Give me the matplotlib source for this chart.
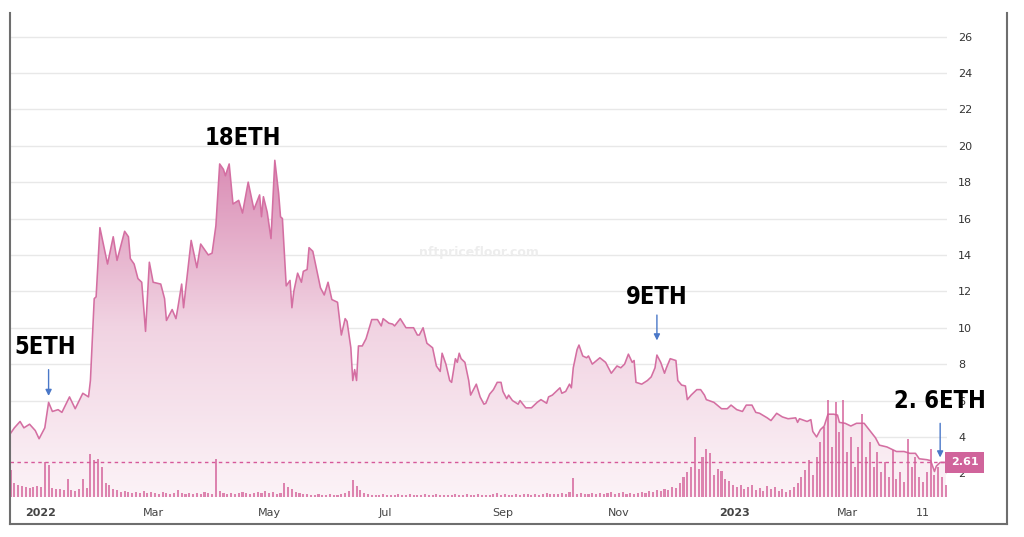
import matplotlib
matplotlib.use("Agg")
import matplotlib.pyplot as plt
import matplotlib.dates as mdates
from matplotlib.colors import LinearSegmentedColormap
from matplotlib.lines import Line2D
import numpy as np
import pandas as pd

# floor price (ETH)
price_dates = [
    "2021-12-16", "2021-12-18", "2021-12-21", "2021-12-23", "2021-12-26", "2021-12-29", "2021-12-31",
    "2022-01-03", "2022-01-05", "2022-01-07", "2022-01-10", "2022-01-12", "2022-01-16", "2022-01-19",
    "2022-01-23", "2022-01-26", "2022-01-27", "2022-01-29", "2022-01-30", "2022-02-01", "2022-02-05",
    "2022-02-08", "2022-02-10", "2022-02-14", "2022-02-16", "2022-02-17", "2022-02-19", "2022-02-21",
    "2022-02-23", "2022-02-25", "2022-02-27", "2022-03-01", "2022-03-05", "2022-03-07", "2022-03-08",
    "2022-03-11", "2022-03-13", "2022-03-14", "2022-03-16", "2022-03-17", "2022-03-21", "2022-03-24",
    "2022-03-26", "2022-03-28", "2022-03-30", "2022-04-01", "2022-04-03", "2022-04-05", "2022-04-07",
    "2022-04-08", "2022-04-10", "2022-04-12", "2022-04-15", "2022-04-17", "2022-04-20", "2022-04-23",
    "2022-04-26", "2022-04-27", "2022-04-28", "2022-04-30", "2022-05-02", "2022-05-04", "2022-05-06",
    "2022-05-07", "2022-05-08", "2022-05-10", "2022-05-12", "2022-05-13", "2022-05-14", "2022-05-16",
    "2022-05-18", "2022-05-19", "2022-05-21", "2022-05-22", "2022-05-24", "2022-05-28", "2022-05-30",
    "2022-06-01", "2022-06-03", "2022-06-06", "2022-06-08", "2022-06-10", "2022-06-11", "2022-06-13",
    "2022-06-14", "2022-06-15", "2022-06-16", "2022-06-17", "2022-06-19", "2022-06-21", "2022-06-24",
    "2022-06-27", "2022-06-29", "2022-06-30", "2022-07-03", "2022-07-05", "2022-07-06", "2022-07-09",
    "2022-07-12", "2022-07-16", "2022-07-18", "2022-07-19", "2022-07-21", "2022-07-23", "2022-07-26",
    "2022-07-28", "2022-07-30", "2022-07-31", "2022-08-02", "2022-08-04", "2022-08-05", "2022-08-07",
    "2022-08-08", "2022-08-09", "2022-08-10", "2022-08-12", "2022-08-14", "2022-08-15", "2022-08-17",
    "2022-08-18", "2022-08-20", "2022-08-22", "2022-08-23", "2022-08-25", "2022-08-27", "2022-08-29",
    "2022-08-31", "2022-09-01", "2022-09-03", "2022-09-04", "2022-09-06", "2022-09-09", "2022-09-10",
    "2022-09-13", "2022-09-16", "2022-09-19", "2022-09-21", "2022-09-24", "2022-09-25", "2022-09-27",
    "2022-10-01", "2022-10-02", "2022-10-04", "2022-10-06", "2022-10-07", "2022-10-08", "2022-10-10",
    "2022-10-11", "2022-10-13", "2022-10-15", "2022-10-16", "2022-10-18", "2022-10-22", "2022-10-25",
    "2022-10-28", "2022-10-31", "2022-11-02", "2022-11-04", "2022-11-06", "2022-11-08", "2022-11-09",
    "2022-11-10", "2022-11-13", "2022-11-16", "2022-11-18", "2022-11-20", "2022-11-21", "2022-11-23",
    "2022-11-25", "2022-11-26", "2022-11-28", "2022-12-01", "2022-12-02", "2022-12-04", "2022-12-06",
    "2022-12-07", "2022-12-09", "2022-12-12", "2022-12-14", "2022-12-16", "2022-12-17", "2022-12-21",
    "2022-12-25", "2022-12-28", "2022-12-30", "2023-01-02", "2023-01-05", "2023-01-07", "2023-01-10",
    "2023-01-12", "2023-01-14", "2023-01-18", "2023-01-20", "2023-01-23", "2023-01-26", "2023-01-29",
    "2023-02-02", "2023-02-03", "2023-02-04", "2023-02-08", "2023-02-10", "2023-02-11", "2023-02-13",
    "2023-02-15", "2023-02-17", "2023-02-19", "2023-02-22", "2023-02-24", "2023-02-25", "2023-02-28",
    "2023-03-03", "2023-03-06", "2023-03-10", "2023-03-13", "2023-03-16", "2023-03-18", "2023-03-22",
    "2023-03-27", "2023-03-31", "2023-04-03", "2023-04-06", "2023-04-08", "2023-04-12", "2023-04-14",
    "2023-04-16", "2023-04-17", "2023-04-19", "2023-04-22",
]
price_values = [
    4.2, 4.5, 4.85, 4.5, 4.7, 4.35, 3.9,
    4.5, 5.9, 5.4, 5.5, 5.35, 6.2, 5.55,
    6.4, 6.2, 7.1, 11.6, 11.7, 15.5, 13.5,
    15.0, 13.7, 15.3, 15.0, 13.8, 13.5, 12.7,
    12.5, 9.8, 13.6, 12.5, 12.4, 11.6, 10.4,
    11.0, 10.5, 11.1, 12.4, 11.1, 14.8, 13.3,
    14.6, 14.3, 14.0, 14.1, 15.6, 19.0, 18.7,
    18.35, 19.0, 16.8, 17.0, 16.3, 18.0, 16.5,
    17.3, 16.1, 17.2, 16.35, 14.9, 19.2, 17.4,
    16.1, 16.0, 12.3, 12.6, 11.1, 12.0, 13.0,
    12.5, 13.1, 13.2, 14.4, 14.2, 12.2, 11.8,
    12.5, 11.55, 11.4, 9.6, 10.5, 10.35, 8.9,
    7.1, 7.7, 7.1, 9.0, 9.0, 9.4, 10.45,
    10.45, 10.1, 10.5, 10.25, 10.2, 10.1, 10.5,
    10.0, 10.0, 9.6, 9.6, 10.0, 9.15, 8.9,
    7.9, 7.6, 8.6, 8.0, 7.1, 7.0, 8.3,
    8.1, 8.6, 8.3, 8.1, 7.1, 6.3, 6.7,
    6.9, 6.2, 5.8, 5.85, 6.35, 6.6, 7.0,
    7.0, 6.5, 6.1, 6.3, 6.0, 5.8, 6.0,
    5.6, 5.6, 5.9, 6.05, 5.85, 6.2, 6.3,
    6.7, 6.4, 6.5, 6.9, 6.7, 7.8, 8.8,
    9.05, 8.45, 8.35, 8.45, 8.0, 8.35, 8.1,
    7.5, 7.9, 7.8, 8.0, 8.55, 8.1, 8.2,
    7.0, 6.9, 7.1, 7.3, 7.8, 8.5, 8.1,
    7.5, 7.8, 8.3, 8.2, 7.1, 6.85, 6.8,
    6.05, 6.3, 6.6, 6.6, 6.3, 6.05, 5.9,
    5.55, 5.55, 5.75, 5.5, 5.4, 5.75, 5.75,
    5.35, 5.3, 5.05, 4.9, 5.3, 5.1, 5.0,
    5.05, 4.8, 5.0, 4.85, 4.95, 4.3, 4.0,
    4.4, 4.6, 5.25, 5.25, 5.2, 4.8, 4.75,
    4.6, 4.75, 4.75, 4.35, 3.95, 3.55, 3.45,
    3.2, 3.2, 3.1, 3.1, 2.8, 2.75, 2.7,
    2.1, 2.4, 2.6, 2.6,
]

# sales volume, one value every two days from 2021-12-16 (relative units)
vol_start = "2021-12-16"
vol_values = [
    27, 14, 12, 11, 10, 9, 10, 11,
    10, 35, 32, 9, 8,
    8, 7, 18, 7, 6, 8, 18, 9,
    43, 37, 38, 30, 14, 12,
    8, 7, 5, 6, 5, 4, 5, 4, 6, 4, 5,
    4, 3, 5, 4, 3, 4, 7, 4, 3, 4, 3, 4, 3, 5, 4, 3,
    38, 6,
    4, 3, 4, 3, 4, 5, 4, 3, 4, 5, 4, 6, 4, 5, 3, 4, 14,
    10, 8, 5, 4, 3, 3, 2, 2, 3, 2, 2, 3, 2, 2, 3, 4, 6,
    17, 11, 7,
    4, 3, 2, 2, 2, 3, 2, 2, 2, 3, 2, 2, 3, 2, 2, 2, 3, 2, 2, 3,
    2, 2, 2, 2, 3, 2, 2, 3, 2, 2, 3, 2, 2, 2, 3, 4, 2, 3, 2, 2,
    3, 2, 3, 3, 2, 3, 2, 3, 4, 3, 3, 3, 4, 3, 5,
    19,
    3, 4, 3, 3, 4, 3, 4, 3, 4, 5, 3, 4, 5, 3, 4, 3, 4, 5, 4, 6, 5, 7,
    6, 8, 7, 10, 9, 14, 20,
    25, 30, 60, 28, 40, 48, 44, 22, 28, 26, 18, 16, 12, 10, 12, 8, 10, 12,
    7, 9, 6, 11, 8, 10, 6, 8, 5, 7, 10, 14, 20, 27, 37, 22, 40,
    55, 70, 97, 50, 95, 65, 97, 45, 60, 30, 50, 83, 40, 55, 30, 45, 25,
    35, 20, 47, 18, 25, 15, 58, 30, 40, 20, 15, 25, 48, 22, 30, 20, 12,
]

current_price = 2.61
y_ticks = [2, 4, 6, 8, 10, 12, 14, 16, 18, 20, 22, 24, 26]
x_tick_dates = ["2022-01-01", "2022-03-01", "2022-05-01", "2022-07-01", "2022-09-01",
                "2022-11-01", "2023-01-01", "2023-03-01", "2023-04-10"]
x_tick_labels = ["2022", "Mar", "May", "Jul", "Sep", "Nov", "2023", "Mar", "11"]

# annotations: (label, text date, text value, arrow date, arrow top, arrow tip)
notes = [
    ("5ETH", "2022-01-03", 8.95, "2022-01-05", 7.85, 6.1),
    ("18ETH", "2022-04-17", 20.4, None, None, None),
    ("9ETH", "2022-11-21", 11.7, "2022-11-21", 10.85, 9.15),
    ("2. 6ETH", "2023-04-19", 6.0, "2023-04-19", 4.9, 2.72),
]

line_color = "#d46fa2"
bar_color = "#d35f98"
W, H = 1024, 537

fig = plt.figure(figsize=(W / 100, H / 100), dpi=100)
fig.patch.set_facecolor("white")

rect = [10 / W, (H - 497) / H, 937 / W, 475 / H]
ax = fig.add_axes(rect)
ax2 = fig.add_axes(rect, sharex=ax)
ax2.patch.set_visible(False)
ax2.axis("off")

dates = mdates.date2num(pd.to_datetime(price_dates))
prices = np.array(price_values)
base = 0.7

x0 = mdates.date2num(pd.Timestamp("2022-01-01")) - 16.3
x1 = mdates.date2num(pd.Timestamp("2022-01-01")) + 476.6

# gradient fill under the price line
poly = ax.fill_between(dates, prices, base, color="none", lw=0)
cmap = LinearSegmentedColormap.from_list("pinkfade", ["#fcf3f7", "#f1d3e2", "#d98ab3"])
grad = np.linspace(0, 1, 256).reshape(-1, 1)
im = ax.imshow(grad, extent=[x0, x1, base, 19.5], origin="lower", aspect="auto",
               cmap=cmap, zorder=1)
im.set_clip_path(poly.get_paths()[0], transform=ax.transData)
ax.plot(dates, prices, color=line_color, lw=1.15, zorder=3)

# current price dashed line
ax.axhline(current_price, color="#d6589a", lw=1, ls=(0, (2.5, 2.5)), zorder=4)

ax.set_xlim(x0, x1)
ax.set_ylim(base, 26.8)
ax.set_yticks(y_ticks)
ax.yaxis.tick_right()
ax.tick_params(axis="y", length=0, pad=8, labelsize=8, labelcolor="#333333")
ax.grid(axis="y", color="#e8e8e8", lw=1, zorder=0)
ax.set_axisbelow(True)
for s in ax.spines.values():
    s.set_visible(False)

ax.set_xticks(mdates.date2num(pd.to_datetime(x_tick_dates)))
ax.set_xticklabels(x_tick_labels)
ax.tick_params(axis="x", length=0, pad=8, labelsize=8, labelcolor="#444444")
for lab in ax.get_xticklabels():
    if lab.get_text() in ("2022", "2023"):
        lab.set_fontweight("bold")

# volume bars
vol_dates = mdates.date2num(pd.date_range(vol_start, periods=len(vol_values), freq="2D"))
ax2.bar(vol_dates, vol_values, width=1.1, color=bar_color, alpha=0.75, lw=0)
ax2.set_ylim(0, 475)
ax2.set_xlim(x0, x1)

# price tag at right
ax.text(1.004, current_price, f"{current_price:.2f}", transform=ax.get_yaxis_transform(),
        ha="left", va="center", fontsize=8, fontweight="bold", color="white", zorder=6,
        bbox=dict(boxstyle="square,pad=0.5", fc="#d0649b", ec="none"), clip_on=False)

# watermark
ax.text(0.5, 0.514, "nftpricefloor.com", transform=ax.transAxes, ha="center", va="center",
        fontsize=9, fontweight="bold", color="#ededed", zorder=2)

# annotations
for label, tdate, tval, adate, atop, atip in notes:
    tx = mdates.date2num(pd.Timestamp(tdate))
    ax.text(tx, tval, label, ha="center", va="center", fontsize=17, fontweight="bold",
            family="DejaVu Sans", fontstretch="condensed", color="black", zorder=8)
    if adate is not None:
        axx = mdates.date2num(pd.Timestamp(adate))
        ax.annotate("", xy=(axx, atip), xytext=(axx, atop),
                    arrowprops=dict(arrowstyle="-|>", color="#4a78c8", lw=1,
                                    mutation_scale=9), zorder=8)

# screenshot frame
fy0, fy1 = 13 / H, (H - 13) / H
fig.add_artist(Line2D([10 / W, 10 / W], [fy0, fy1], color="#6e6e6e", lw=1.5))
fig.add_artist(Line2D([1007 / W, 1007 / W], [fy0, fy1], color="#6e6e6e", lw=1.5))
fig.add_artist(Line2D([10 / W, 1007 / W], [fy0, fy0], color="#6e6e6e", lw=1.5))

fig.savefig("out.png", dpi=100)
